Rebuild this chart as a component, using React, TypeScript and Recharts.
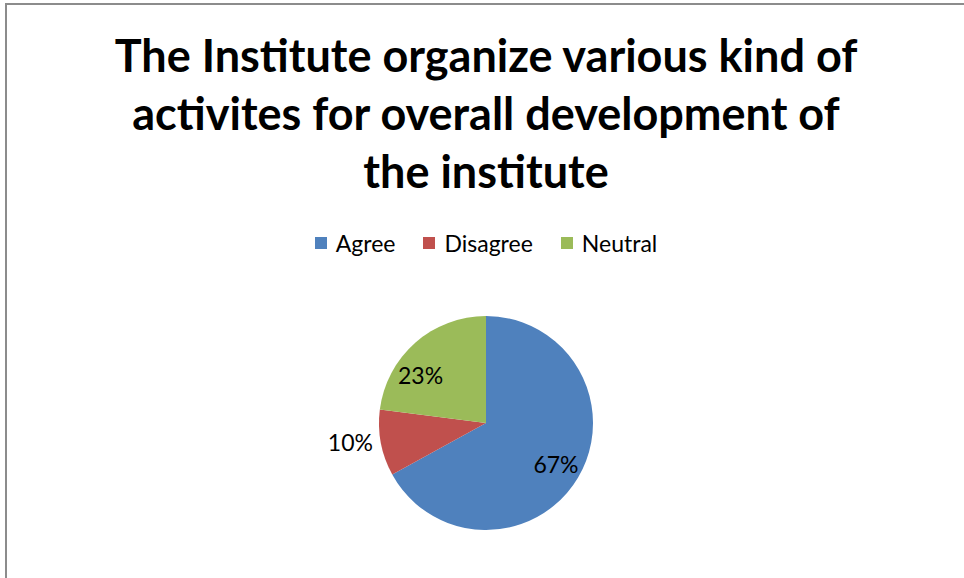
import { PieChart, Pie, Cell } from "recharts";

const categories = ["Agree", "Disagree", "Neutral"];
const values = [67, 10, 23];
const colors = ["#4F81BD", "#C0504D", "#9BBB59"];
const titleLines = [
  "The Institute organize various kind of",
  "activites for overall development of",
  "the institute",
];

const data = categories.map((name, i) => ({ name, value: values[i] }));
const FONT = "Lato, 'Open Sans', sans-serif";
const RAD = Math.PI / 180;

const renderLabel = (props: any) => {
  const { cx, cy, midAngle, outerRadius, percent } = props;
  const outside = percent < 0.15;
  const r = outside ? outerRadius + 30 : outerRadius * 0.76;
  // screen angle, pulled a bit toward the horizontal on the left side (Excel best fit look)
  let t = ((-midAngle % 360) + 360) % 360;
  if (t > 90 && t < 270) t += (180 - t) * 0.25;
  const x = cx + r * Math.cos(t * RAD);
  const y = cy + r * Math.sin(t * RAD);
  return (
    <text x={x} y={y} fill="#000" fontSize={23} fontFamily={FONT}
      textAnchor="middle" dominantBaseline="central">
      {`${Math.round(percent * 100)}%`}
    </text>
  );
};

export default function App() {
  return (
    <div style={{ position: "absolute", left: 0, top: 0, width: 964, height: 578, background: "#fff", overflow: "hidden" }}>
      <div style={{ position: "absolute", left: 5, top: 3, width: 1000, height: 600, border: "2px solid #8c8c8c", boxSizing: "border-box" }} />
      <div style={{ position: "absolute", left: 0, top: 26, width: 972, textAlign: "center",
        fontFamily: FONT, fontWeight: 700, fontSize: 45, lineHeight: "58px", color: "#000" }}>
        {titleLines.map((l) => <div key={l}>{l}</div>)}
      </div>
      <div style={{ position: "absolute", left: 0, top: 228, width: 972, display: "flex", justifyContent: "center",
        gap: 28, fontFamily: FONT, fontSize: 23, lineHeight: "30px" }}>
        {categories.map((c, i) => (
          <div key={c} style={{ display: "flex", alignItems: "center" }}>
            <span style={{ width: 12, height: 12, background: colors[i], marginRight: 9, display: "inline-block" }} />
            <span style={{ color: "#000" }}>{c}</span>
          </div>
        ))}
      </div>
      <div style={{ position: "absolute", left: 0, top: 0 }}>
        <PieChart width={964} height={578} margin={{ top: 0, right: 0, bottom: 0, left: 0 }}>
          <Pie data={data} dataKey="value" nameKey="name" cx={486} cy={423} outerRadius={107}
            startAngle={90} endAngle={-270} stroke="none" label={renderLabel} labelLine={false}
            isAnimationActive={false}>
            {data.map((d, i) => <Cell key={d.name} fill={colors[i]} />)}
          </Pie>
        </PieChart>
      </div>
    </div>
  );
}
